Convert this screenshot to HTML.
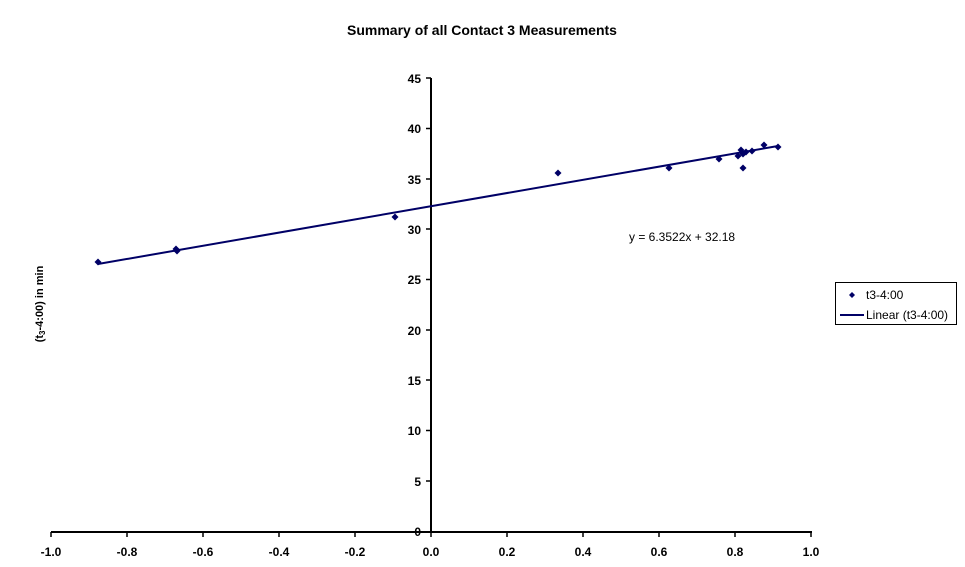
<!DOCTYPE html>
<html><head><style>body{margin:0;background:#fff}svg{display:block}text{font-family:"Liberation Sans",Arial,sans-serif}</style></head>
<body>
<svg width="965" height="567" viewBox="0 0 965 567">
<text x="482" y="35" text-anchor="middle" font-size="14" font-weight="bold">Summary of all Contact 3 Measurements</text>
<text transform="translate(43,304) rotate(-90)" text-anchor="middle" font-size="11" font-weight="bold">(t<tspan font-size="8" dy="2">3</tspan><tspan dy="-2">-4:00) in min</tspan></text>
<g stroke="#000" stroke-width="2" fill="none">
<line x1="51" y1="532" x2="812" y2="532"/>
<line x1="431" y1="78" x2="431" y2="532"/>
</g>
<g stroke="#000" stroke-width="1.5">
<line x1="51" y1="532" x2="51" y2="537"/><line x1="127" y1="532" x2="127" y2="537"/><line x1="203" y1="532" x2="203" y2="537"/><line x1="279" y1="532" x2="279" y2="537"/><line x1="355" y1="532" x2="355" y2="537"/><line x1="431" y1="532" x2="431" y2="537"/><line x1="507" y1="532" x2="507" y2="537"/><line x1="583" y1="532" x2="583" y2="537"/><line x1="659" y1="532" x2="659" y2="537"/><line x1="735" y1="532" x2="735" y2="537"/><line x1="811" y1="532" x2="811" y2="537"/>
<line x1="426" y1="78" x2="431" y2="78"/><line x1="426" y1="128.5" x2="431" y2="128.5"/><line x1="426" y1="179" x2="431" y2="179"/><line x1="426" y1="229" x2="431" y2="229"/><line x1="426" y1="279.5" x2="431" y2="279.5"/><line x1="426" y1="330" x2="431" y2="330"/><line x1="426" y1="380" x2="431" y2="380"/><line x1="426" y1="430.5" x2="431" y2="430.5"/><line x1="426" y1="481" x2="431" y2="481"/>
</g>
<g font-size="12" font-weight="bold" text-anchor="middle">
<text x="51" y="556">-1.0</text><text x="127" y="556">-0.8</text><text x="203" y="556">-0.6</text><text x="279" y="556">-0.4</text><text x="355" y="556">-0.2</text><text x="431" y="556">0.0</text><text x="507" y="556">0.2</text><text x="583" y="556">0.4</text><text x="659" y="556">0.6</text><text x="735" y="556">0.8</text><text x="811" y="556">1.0</text>
</g>
<g font-size="12" font-weight="bold" text-anchor="end">
<text x="421" y="83">45</text><text x="421" y="133">40</text><text x="421" y="184">35</text><text x="421" y="234">30</text><text x="421" y="284">25</text><text x="421" y="335">20</text><text x="421" y="385">15</text><text x="421" y="435">10</text><text x="421" y="486">5</text><text x="421" y="536">0</text>
</g>
<line x1="98" y1="264" x2="778" y2="146" stroke="#000066" stroke-width="2"/>
<g fill="#000066">
<path d="M0,-3.5L3.5,0L0,3.5L-3.5,0Z" transform="translate(98,262)"/>
<path d="M0,-3.5L3.5,0L0,3.5L-3.5,0Z" transform="translate(176,249)"/>
<path d="M0,-3.5L3.5,0L0,3.5L-3.5,0Z" transform="translate(177,251)"/>
<path d="M0,-3.5L3.5,0L0,3.5L-3.5,0Z" transform="translate(395,217)"/>
<path d="M0,-3.5L3.5,0L0,3.5L-3.5,0Z" transform="translate(558,173)"/>
<path d="M0,-3.5L3.5,0L0,3.5L-3.5,0Z" transform="translate(669,168)"/>
<path d="M0,-3.5L3.5,0L0,3.5L-3.5,0Z" transform="translate(719,159)"/>
<path d="M0,-3.5L3.5,0L0,3.5L-3.5,0Z" transform="translate(738,156)"/>
<path d="M0,-3.5L3.5,0L0,3.5L-3.5,0Z" transform="translate(741,150)"/>
<path d="M0,-3.5L3.5,0L0,3.5L-3.5,0Z" transform="translate(743,168)"/>
<path d="M0,-3.5L3.5,0L0,3.5L-3.5,0Z" transform="translate(743,154)"/>
<path d="M0,-3.5L3.5,0L0,3.5L-3.5,0Z" transform="translate(746,152)"/>
<path d="M0,-3.5L3.5,0L0,3.5L-3.5,0Z" transform="translate(752,151)"/>
<path d="M0,-3.5L3.5,0L0,3.5L-3.5,0Z" transform="translate(764,145)"/>
<path d="M0,-3.5L3.5,0L0,3.5L-3.5,0Z" transform="translate(778,147)"/>
</g>
<text x="629" y="241" font-size="12">y = 6.3522x + 32.18</text>
<rect x="835.5" y="282.5" width="121" height="42" fill="#fff" stroke="#000"/>
<path d="M0,-3L3,0L0,3L-3,0Z" transform="translate(852,295)" fill="#000066"/>
<text x="866" y="299" font-size="12">t3-4:00</text>
<line x1="840" y1="315" x2="864" y2="315" stroke="#000066" stroke-width="2"/>
<text x="866" y="319" font-size="12">Linear (t3-4:00)</text>
</svg>
</body></html>
